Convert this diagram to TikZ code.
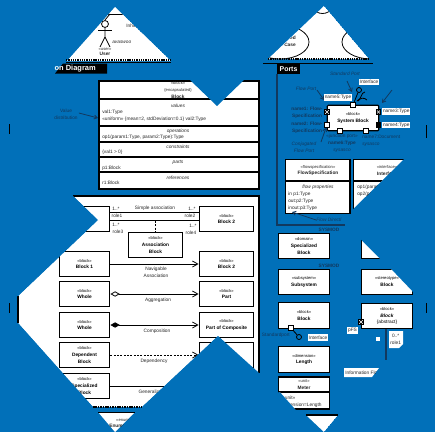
\documentclass[tikz,border=0pt]{standalone}
\usepackage{fontspec}
\setmainfont{Liberation Sans}
\usepackage{xcolor}
\usetikzlibrary{arrows.meta}
\definecolor{panelblue}{HTML}{0170B9}
\definecolor{navyink}{HTML}{12395F}
\newcommand{\smalltext}{\fontsize{3.6}{5.2}\selectfont}
\newcommand{\stereo}[1]{{\fontsize{3.1}{5.2}\selectfont «#1»}\\}
\tikzset{
	blockbox/.style={draw=black, line width=.9pt, fill=white, align=center, inner sep=0pt,
			minimum width=38pt, minimum height=19pt, font=\smalltext},
	wideblock/.style={blockbox, minimum width=41pt},
	txt/.style={font=\smalltext, inner sep=0pt, align=center, text=black!85},
	note/.style={txt, text=navyink},
	noteit/.style={note, font=\smalltext\itshape},
	notebf/.style={note, font=\smalltext\bfseries},
	sect/.style={txt, font=\smalltext\itshape},
	labelbox/.style={txt, fill=white, inner xsep=.6pt, inner ysep=1pt},
	portbox/.style={draw=black, line width=.6pt, fill=white, inner sep=0pt, minimum size=3.4pt},
	flowport/.style={portbox, fill=black, path picture={
					\draw[white, line width=.3pt] (path picture bounding box.north west) -- (path picture bounding box.south east);
					\draw[white, line width=.3pt] (path picture bounding box.north east) -- (path picture bounding box.south west);}},
	navyline/.style={draw=navyink, line width=.9pt},
	link/.style={line width=.6pt},
	pointer/.style={navyink, line width=.6pt, -{Straight Barb[length=2.4pt,width=3pt]}},
	openhead/.style={link, -{Straight Barb[length=4pt,width=4.5pt]}},
}

\begin{document}
\begin{tikzpicture}[x=0.75pt, y=-0.75pt, font=\smalltext]

			\useasboundingbox (0,0) rectangle (435,432);
			\fill[panelblue] (0,0) rectangle (435,432);

			% Top left triangle with the actor
			\begin{scope}
				\clip (115,7) -- (171,61) -- (67,61) -- cycle;
				\fill[white] (115,7) -- (171,61) -- (67,61) -- cycle;
				\draw[link] (108,14) -- (123,14);
				\draw[link] (105,20) -- (110,14);
				\node[draw, circle, line width=.6pt, minimum size=5.2pt, inner sep=0pt] (head) at (105,24) {};
				\coordinate (hip) at (105,37);
				\draw[link] (head) -- (hip) -- (100,47);
				\draw[link] (hip) -- (110,47);
				\draw[link] (98,30) -- (112,30);
				\node[txt] (usertag) at (105,49) {\fontsize{3.1}{4}\selectfont «user»};
				\node[txt, font=\smalltext\bfseries] (username) at (105,54) {User};
				\node[txt, anchor=west] (inhib) at (126,26) {Inhib};
				\node[sect, anchor=west] (sysa) at (112,42) {avaswoo};
			\end{scope}
			\draw[line width=1pt, dash pattern=on 1pt off .7pt] (66,60) -- (171,60);
			\draw[line width=.9pt] (66,62.5) -- (171,62.5);
			\fill[black] (63,63.5) -- (107,63.5) -- (107,73.5) -- (55,73.5) -- cycle;
			\node[anchor=east, text=white, inner sep=0pt] (viewtitle) at (96,68.5) {\fontsize{5.6}{6}\selectfont\bfseries on Diagram};

			% Top right triangle with the use cases
			\begin{scope}
				\clip (324,6) -- (369,59) -- (268,59) -- cycle;
				\fill[white] (324,6) -- (369,59) -- (268,59) -- cycle;
				\draw[link] (280,42) ellipse (29 and 17);
				\draw[link] (371,42) ellipse (29 and 17);
				\draw[link] (322.5,-4) ellipse (14 and 17.5);
				\node[txt, font=\smalltext\bfseries, align=right, anchor=east] (usecase) at (296,41) {ited\\Case};
			\end{scope}
			\draw[line width=1pt, dash pattern=on 1pt off .7pt] (268,59) -- (369,59);
			\draw[line width=.7pt] (263,63) -- (373,63);
			\node[fill=black, text=white, minimum width=17pt, minimum height=7.5pt, inner sep=0pt] (portstitle) at (288.5,69) {\fontsize{5.2}{6}\selectfont\bfseries Ports};
			\draw[navyline] (277,74) -- (277,225) -- (345,225);

			% Block with its compartments
			\fill[white] (99,81) rectangle (259,189);
			\draw[line width=.9pt] (99,81) rectangle (259,189);
			\foreach \ypos in {99,126,142,157,172} {
					\draw[line width=.8pt] (99,\ypos) -- (259,\ypos);
				}
			\node[txt] (blocktitle) at (178,90) {\fontsize{3.1}{5.2}\selectfont «block»\\\fontsize{3.1}{5.2}\selectfont \{encapsulated\}\\\textbf{Block}};
			\foreach \ypos/\sectname in {106/values,131/operations,147/constraints,162/parts,178/references} {
					\node[sect] (sect\sectname) at (178,\ypos) {\sectname};
				}
			\node[txt, anchor=west] (val1) at (102,112) {val1:Type};
			\node[txt, anchor=west] (val2) at (102,119) {«uniform» \{mean=2, stdDeviation=0.1\} val2:Type};
			\node[txt, anchor=west] (op1) at (102,137) {op1(param1:Type, param2:Type):Type};
			\node[txt, anchor=west] (cons) at (102,152) {\{val1 > 0\}};
			\node[txt, anchor=west] (p1) at (102,168) {p1:Block};
			\node[txt, anchor=west] (r1) at (102,183) {r1:Block};
			\fill[panelblue] (190,80) -- (217,106) -- (244,80) -- cycle;
			\node[note] (valuedist) at (66,114) {Value\\distribution};
			\draw[pointer] (valuedist.east) ++(1,-1) -- (98,118);

			% Relations panel
			\fill[white] (73,196) -- (259,196) -- (259,373) -- (218,336) -- (142,407) -- (93,407) -- (18,323) -- (18,296) -- (98,220) -- cycle;
			\draw[line width=.9pt] (73,196) -- (259,196) -- (259,373);
			\draw[line width=.9pt] (18,296) -- (18,323);

			\node[blockbox] (blockA) at (84.5,219) {};
			\node[wideblock] (blockB) at (226.5,219) {\stereo{block}\textbf{Block 2}};
			\draw[link] ([yshift=5pt]blockA.east) -- ([yshift=5pt]blockB.west);
			\draw[link] ([yshift=-1.3pt]blockA.east) -- ([yshift=-1.3pt]blockB.west);
			\node[wideblock] (assocblock) at (155.5,245) {\stereo{block}\textbf{Association}\\\textbf{Block}};
			\draw[link, dashed, dash pattern=on 1.5pt off 1pt] (155.5,221) -- (assocblock);
			\foreach \xpos/\ypos/\lbl [count=\i] in {116/209/1..*,117/216/role1,116/225/1..*,118/232/role3,192/209/1..*,190/216/role2,193/226/1..*,191/233/role4} {
					\node[txt] (end\i) at (\xpos,\ypos) {\lbl};
				}
			\node[txt] (simple) at (155,208) {Simple association};

			\node[blockbox] (navA) at (84.5,264) {\stereo{block}\textbf{Block 1}};
			\node[wideblock] (navB) at (226.5,264) {\stereo{block}\textbf{Block 2}};
			\draw[openhead] (navA) -- (navB);
			\node[txt] (navlabel) at (156,272.5) {Navigable\\Association};

			\node[blockbox] (aggA) at (84.5,294) {\stereo{block}\textbf{Whole}};
			\node[wideblock] (aggB) at (226.5,294) {\stereo{block}\textbf{Part}};
			\draw[link, {Diamond[open, length=7pt, width=4pt]}-{Straight Barb[length=4pt,width=4.5pt]}] (aggA) -- (aggB);
			\node[txt] (agglabel) at (158,300) {Aggregation};

			\node[blockbox] (compA) at (84.5,325) {\stereo{block}\textbf{Whole}};
			\node[wideblock] (compB) at (226.5,325) {\stereo{block}\textbf{Part of Composite}};
			\draw[link, {Diamond[length=7pt, width=4pt]}-{Straight Barb[length=4pt,width=4.5pt]}] (compA) -- (compB);
			\node[txt] (complabel) at (157,331) {Composition};

			\node[blockbox] (depA) at (84.5,355) {\stereo{block}\textbf{Dependent}\\\textbf{Block}};
			\node[wideblock] (depB) at (226.5,355) {};
			\draw[openhead, dashed, dash pattern=on 1.5pt off 1pt] (depA) -- (depB);
			\node[txt] (deplabel) at (154,361) {Dependency};

			\node[blockbox] (specA) at (84.5,386) {\stereo{block}\textbf{Specialized}\\\textbf{Block}};
			\coordinate (genend) at (170,386);
			\draw[link] (specA) -- (genend);
			\node[txt] (genlabel) at (154,392) {Generalization};

			% Cut the panel down
			\fill[panelblue] (40,190) -- (73,196) -- (98,220) -- (18,296) -- (10,296) -- cycle;
			\fill[panelblue] (18,323) -- (93,407) -- (142,407) -- (218,336) -- (259,373) -- (262,376) -- (262,412) -- (30,412) -- cycle;
			\draw[line width=.8pt, dash pattern=on 1.2pt off .6pt] (93,407) -- (142,407);

			% Enumeration at the bottom
			\begin{scope}
				\clip (98,412) -- (135,412) -- (115,432) -- cycle;
				\fill[white] (98,412) -- (135,412) -- (115,432) -- cycle;
				\node[txt] (enumtag) at (130,420) {\fontsize{3.1}{4}\selectfont «enumeration»};
				\node[txt, font=\smalltext\bfseries] (enumname) at (124,426) {Enumeration};
			\end{scope}
			\draw[line width=.9pt] (98,412.5) -- (135,412.5);

			% Ports
			\node[blockbox, rounded corners=.7pt, minimum width=38.5pt] (sysblock) at (353,118) {\stereo{block}\textbf{System Block}};
			\node[flowport] (port1) at (327,112) {};
			\node[flowport, fill=white, draw=black] (port2) at (327,125) {};
			\node[flowport] (port3) at (378.5,112) {};
			\node[portbox, fill=black] (port4) at (378.5,125) {};
			\node[portbox] (port5) at (353,105) {};
			\node[portbox] (port6) at (340,131) {};
			\node[portbox] (port7) at (366,131) {};
			\node[draw, circle, line width=.6pt, minimum size=3.8pt, inner sep=0pt] (ball) at (359,90) {};
			\draw[link] (port5) -- (ball);
			\coordinate (sockA) at (365,92);
			\coordinate (sockB) at (367,100);
			\draw[link] (sockA) .. controls (360,93) and (363,98) .. (357,101);
			\draw[link] (sockB) .. controls (364,97) and (360,98) .. (358,101);
			\node[labelbox] (iface) at (369,82) {Interface};
			\node[labelbox] (name5) at (338,97.5) {name5:Type};
			\node[labelbox, anchor=west] (name3) at (382,111.5) {name3:Type};
			\node[labelbox, anchor=west] (name4) at (382,125) {name4:Type};
			\node[noteit] (stdport) at (345,74) {Standard Port};
			\coordinate (stdtip) at (352,92);
			\draw[pointer] (stdport) ++(2,7) -- (stdtip);
			\node[noteit] (flowlabel) at (306,89) {Flow Port};
			\draw[pointer] (flowlabel) ++(11,1) -- (324,100);
			\node[notebf] (name1) at (307,112.5) {name1: Flow-\\Specification};
			\node[notebf] (name2) at (307,127.5) {name2: Flow-\\Specification};
			\node[noteit] (conjlabel) at (304,147) {Conjugated\\Flow Port};
			\draw[pointer] (321,142) -- (port2);
			\coordinate (rightstart) at (392,90);
			\draw[pointer] (rightstart) -- (382,103);
			\node[note] (name6) at (342,143.5) {«junction port»\\\textbf{name6:Type}\\\textit{sysasco}};
			\node[note, anchor=west, align=left] (name7) at (362,140.5) {name7:Document\\\textit{sysasco}};

			% Flow specification and interface
			\node[blockbox, minimum width=48.5pt, minimum height=40pt] (flowspec) at (317.7,186.5) {};
			\draw[line width=.8pt] (flowspec.west |- 0,181) -- (flowspec.east |- 0,181);
			\node[txt] (flowtitle) at (318,170.5) {\stereo{flowspecification}\textbf{FlowSpecification}};
			\node[sect] (flowprops) at (318,187) {flow properties};
			\node[txt, anchor=west] (fp1) at (288,194) {in p1:Type};
			\node[txt, anchor=west] (fp2) at (288,201) {out:p2:Type};
			\node[txt, anchor=west] (fp3) at (288,208) {inout:p3:Type};
			\node[noteit] (flowdir) at (329,220) {Flow Directi};
			\draw[pointer] (flowdir.west) -- (292,212);
			\begin{scope}
				\clip (353,159) -- (404,159) -- (353,209) -- cycle;
				\node[blockbox, minimum width=50pt, minimum height=40pt] (ifaceblock) at (387,186.5) {};
				\draw[line width=.8pt] (354,181) -- (420,181);
				\node[txt] (ifacetitle) at (387,170.5) {\stereo{interface}\textbf{Interface}};
				\node[txt, anchor=west, align=left] (ifaceops) at (357,190.5) {op1(param1:Type):Type\\op2(param1:Type):Type};
			\end{scope}
			\node[notebf] (sysmodA) at (329,230) {SYSMOD};
			\node[notebf] (sysmodB) at (329,266) {SYSMOD};

			% Right hand blocks
			\node[blockbox] (domainblock) at (304,246) {\stereo{domain}\textbf{Specialized}\\\textbf{Block}};
			\node[blockbox] (subsystem) at (304,282) {\stereo{subsystem}\textbf{Subsystem}};
			\node[blockbox] (portblock) at (304,315.5) {\stereo{block}\textbf{Block}};
			\node[portbox] (stdport2) at (291,328) {};
			\node[draw, circle, line width=.6pt, minimum size=3.8pt, inner sep=0pt] (ball2) at (299,337) {};
			\draw[link] (stdport2) -- (ball2);
			\node[note, anchor=east] (stdportlabel) at (290,335) {Standardport};
			\node[labelbox] (ifacetwo) at (318,337.5) {Interface};
			\begin{scope}
				\clip (360,239) -- (381,260) -- (360,260) -- cycle;
				\node[blockbox] (corner) at (387,246) {};
			\end{scope}
			\begin{scope}
				\clip (360,268) -- (390,268) -- (413,292) -- (413,296) -- (360,296) -- cycle;
				\node[blockbox] (stereoblock) at (387,282) {\stereo{stereotype}\textbf{Block}};
			\end{scope}
			\node[blockbox] (abstractblock) at (387,316) {\stereo{block}\textbf{\textit{Block}}\\\{abstract\}};
			\node[flowport] (abstractport) at (361,322) {};
			\node[labelbox] (pfs) at (352.5,330.5) {pFS};
			\node[fill=white, minimum size=3pt, inner sep=0pt] (smallsq) at (378,339) {};
			\coordinate (roleend) at (386,360);
			\draw[navyline] (abstractblock.south -| roleend) -- (roleend);
			\fill[white] (389,331) -- (403,331) -- (403,344) -- (399,348) -- (389,348) -- cycle;
			\node[txt, anchor=west] (rolelabel) at (390,339.5) {0..*\\role1};
			\fill[white] (344,368) -- (379,368) -- (372,377) -- (344,377) -- cycle;
			\begin{scope}
				\clip (344,368) -- (379,368) -- (372,377) -- (344,377) -- cycle;
				\node[txt, anchor=west] (infoflow) at (345,372.5) {Information Flow};
			\end{scope}
			\node[blockbox] (lengthblock) at (304,359.5) {\stereo{dimension}\textbf{Length}};
			\begin{scope}
				\clip (277,376) -- (331,376) -- (331,410) -- (296,410) -- (280,392) -- (277,392) -- cycle;
				\node[blockbox, minimum height=24pt] (meterblock) at (304,393) {};
				\draw[line width=.8pt] (278,392) -- (330,392);
				\node[txt] (metername) at (304,384.5) {\stereo{unit}\textbf{Meter}};
				\node[txt, anchor=west, align=left] (meterdim) at (282,401.5) {«unit»\\dimension=Length};
			\end{scope}
			\begin{scope}
				\clip (306,415) -- (338,415) -- (324,432) -- cycle;
				\fill[white] (306,415) -- (338,415) -- (324,432) -- cycle;
			\end{scope}
			\draw[line width=.8pt] (306,415) -- (338,415);

			% Loose marks
			\coordinate (markA) at (9.5,124);
			\coordinate (markB) at (9.5,134);
			\draw[line width=.7pt] (markA) -- (markB);
			\draw[line width=.7pt] (9.5,303) -- (9.5,313);
			\draw[line width=.7pt] (426.5,125) -- (426.5,138);
			\draw[line width=.7pt] (426.5,303) -- (426.5,313);

		\end{tikzpicture}
\end{document}
